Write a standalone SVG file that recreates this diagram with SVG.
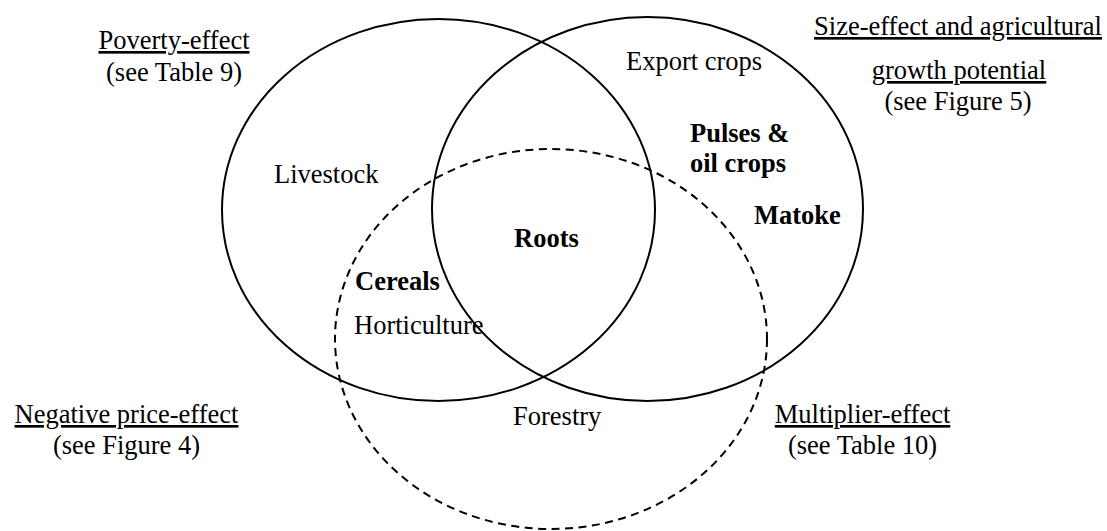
<svg xmlns="http://www.w3.org/2000/svg" width="1107" height="531" viewBox="0 0 1107 531">
<style>
.t{font-family:"Liberation Serif","Times New Roman",serif;font-size:26.5px;fill:#000}
.b{font-weight:bold}
.u{text-decoration:underline}
.c{fill:none;stroke:#000;stroke-width:2}
.d{fill:none;stroke:#000;stroke-width:2;stroke-dasharray:8 5.5}
</style>
<rect width="1107" height="531" fill="#fff"/>
<g id="sets">
<ellipse id="poverty" class="c" cx="438.5" cy="210" rx="216.5" ry="191"/>
<ellipse id="size" class="c" cx="647.5" cy="209" rx="215.5" ry="192"/>
<ellipse id="multiplier" class="d" cx="551" cy="339" rx="216" ry="190"/>
</g>
<g id="label-poverty">
<text class="t u" x="174" y="49" text-anchor="middle">Poverty-effect</text>
<text class="t" x="174" y="81" text-anchor="middle">(see Table 9)</text>
</g>
<g id="label-size">
<text class="t u" x="958" y="35" text-anchor="middle">Size-effect and agricultural</text>
<text class="t u" x="959" y="79" text-anchor="middle">growth potential</text>
<text class="t" x="958" y="110" text-anchor="middle">(see Figure 5)</text>
</g>
<g id="label-price">
<text class="t u" x="126.5" y="423" text-anchor="middle">Negative price-effect</text>
<text class="t" x="126.5" y="454" text-anchor="middle">(see Figure 4)</text>
</g>
<g id="label-multiplier">
<text class="t u" x="862.5" y="423" text-anchor="middle">Multiplier-effect</text>
<text class="t" x="862.5" y="454" text-anchor="middle">(see Table 10)</text>
</g>
<g id="items">
<text class="t" x="626" y="70">Export crops</text>
<text class="t b" x="690" y="142">Pulses &amp;</text>
<text class="t b" x="690" y="172">oil crops</text>
<text class="t b" x="754" y="224">Matoke</text>
<text class="t" x="274" y="183">Livestock</text>
<text class="t b" x="514" y="247">Roots</text>
<text class="t b" x="355" y="290">Cereals</text>
<text class="t" x="354" y="334">Horticulture</text>
<text class="t" x="513" y="425">Forestry</text>
</g>
</svg>
